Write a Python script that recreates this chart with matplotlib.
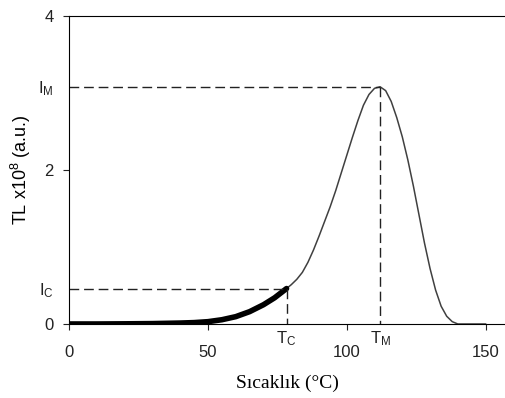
import numpy as np
import matplotlib.pyplot as plt

plt.rcParams['font.family'] = ['Liberation Sans', 'DejaVu Sans']
plt.rcParams['mathtext.default'] = 'regular'

# glow curve
temp = [0, 10, 20, 30, 40, 45, 50, 55, 60, 65, 70, 74, 78.3, 80, 82, 84, 86, 88, 90,
        92, 94, 96, 98, 100, 102, 104, 106, 108, 110, 112, 114, 116, 118, 120, 122,
        124, 126, 128, 130, 132, 134, 136, 138, 140, 150]
tl = [0, 0, 0.002, 0.005, 0.012, 0.018, 0.03, 0.055, 0.095, 0.16, 0.25, 0.34, 0.46,
      0.51, 0.58, 0.67, 0.8, 0.96, 1.14, 1.33, 1.52, 1.73, 1.96, 2.19, 2.42, 2.64,
      2.84, 2.98, 3.06, 3.08, 3.03, 2.89, 2.68, 2.43, 2.13, 1.79, 1.42, 1.05, 0.72,
      0.44, 0.23, 0.1, 0.03, 0.0, 0.0]

t_c, i_c = 78.3, 0.46
t_m, i_m = 112, 3.08

x_ticks = [0, 50, 100, 150]
y_ticks = [0, 2, 4]

temp = np.array(temp)
tl = np.array(tl)

fig = plt.figure(figsize=(5.05, 3.98), dpi=100)
ax = fig.add_axes([0.137, 0.186, 0.863, 0.774])

ax.plot(temp, tl, color='#404040', lw=1.1)
mask = temp <= t_c
ax.plot(temp[mask], tl[mask], color='black', lw=4, solid_capstyle='round')

dash = dict(color='#222222', lw=1, dashes=(7, 3.5))
ax.plot([0, t_m], [i_m, i_m], **dash)
ax.plot([t_m, t_m], [i_m, 0], **dash)
ax.plot([0, t_c], [i_c, i_c], **dash)
ax.plot([t_c, t_c], [i_c, 0], **dash)

ax.set_xlim(0, 157)
ax.set_ylim(0, 4)
ax.spines['right'].set_visible(False)

ax.set_xticks(x_ticks)
ax.set_yticks(y_ticks)
ax.set_xticks([t_c, t_m], ['T$_C$', 'T$_M$'], minor=True)
ax.set_yticks([i_c, i_m], ['I$_C$', 'I$_M$'], minor=True)
ax.tick_params(which='major', direction='out', length=4, labelsize=12, colors='#222222')
ax.tick_params(axis='x', which='major', pad=11)
ax.tick_params(axis='y', which='major', pad=7)
ax.tick_params(which='minor', length=0, labelsize=12, colors='#222222')
ax.tick_params(axis='x', which='minor', pad=4)
ax.tick_params(axis='y', which='minor', pad=11)

ax.set_xlabel('Sıcaklık (°C)', family=['Liberation Serif'], fontsize=14, labelpad=11)
ax.set_ylabel('TL x10$^8$ (a.u.)', fontsize=13, labelpad=4)

fig.savefig('out.png', dpi=100)
